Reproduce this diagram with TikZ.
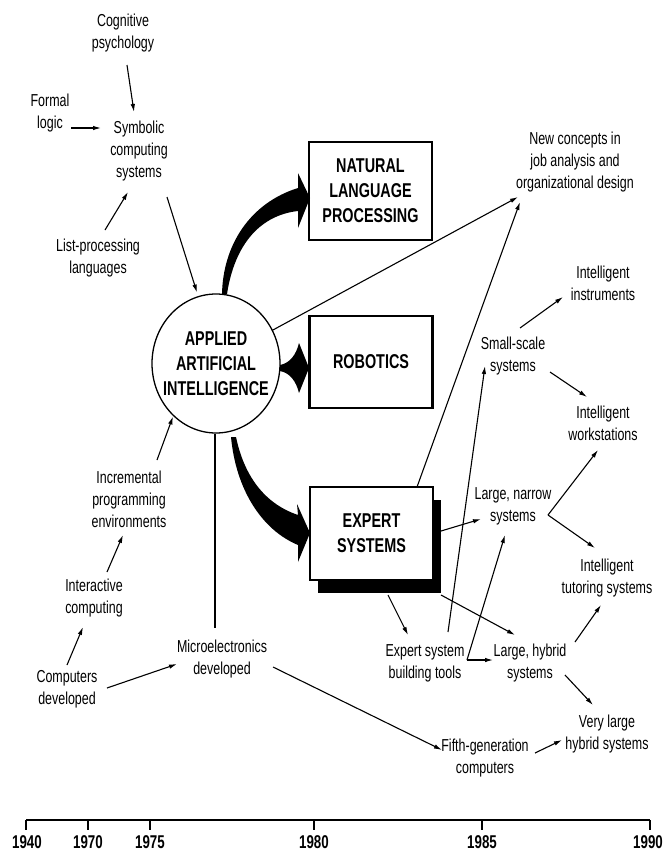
\documentclass[tikz,border=0pt]{standalone}
\usepackage{fontspec}
\setmainfont{Liberation Sans}[FakeStretch=0.72]
\usetikzlibrary{arrows.meta,shapes.geometric}
\begin{document}
\begin{tikzpicture}[x=1pt,y=-1pt,
  txt/.style={align=center,font=\fontsize{17.3}{22}\selectfont,inner sep=1pt},
  bigtxt/.style={align=center,font=\fontsize{20}{25}\selectfont\bfseries},
  boxnode/.style={draw,line width=2.2pt,bigtxt,minimum width=123pt,inner sep=0pt,fill=white},
  arr/.style={-{Latex[length=8pt,width=4.5pt]},line width=1.1pt},
  plain/.style={line width=1.1pt},
  yr/.style={font=\fontsize{18.5}{18.5}\selectfont\bfseries,inner sep=0pt}]
\useasboundingbox[fill=white] (0,0) rectangle (663,854);

% text nodes
\node[txt] (cog) at (123,33.5) {Cognitive\\psychology};
\node[txt] (formal) at (50,113.5) {Formal\\logic};
\node[txt] (sym) at (139,151) {Symbolic\\computing\\systems};
\node[txt] (list) at (98,258) {List-processing\\languages};
\node[txt] (newc) at (575,162) {New concepts in\\job analysis and\\organizational design};
\node[txt] (instr) at (603,283) {Intelligent\\instruments};
\node[txt] (small) at (513,356) {Small-scale\\systems};
\node[txt] (work) at (603,423) {Intelligent\\workstations};
\node[txt] (narrow) at (513,506) {Large, narrow\\systems};
\node[txt] (tutor) at (607,578) {Intelligent\\tutoring systems};
\node[txt] (tools) at (425,663) {Expert system\\building tools};
\node[txt] (hybrid) at (530,663) {Large, hybrid\\systems};
\node[txt] (vlarge) at (607,734) {Very large\\hybrid systems};
\node[txt] (fifth) at (485,758) {Fifth-generation\\computers};
\node[txt] (micro) at (222,659) {Microelectronics\\developed};
\node[txt] (comp) at (67,689) {Computers\\developed};
\node[txt] (inter) at (94,598) {Interactive\\computing};
\node[txt] (incr) at (129,499) {Incremental\\programming\\environments};

% central circle
\node[draw,ellipse,line width=1.3pt,minimum width=128pt,minimum height=139pt,inner sep=0pt] (aai) at (216,363.5) {};
\node[bigtxt] (aaitext) at (aai.center) {APPLIED\\ARTIFICIAL\\INTELLIGENCE};

% boxes
\fill (318,500) rectangle (441,593);
\node[boxnode,minimum height=98pt] (nlp) at (370.5,191) {NATURAL\\LANGUAGE\\PROCESSING};
\node[boxnode,minimum height=92pt] (rob) at (371,362) {ROBOTICS};
\node[boxnode,minimum height=93pt] (exp) at (371.5,533.5) {EXPERT\\SYSTEMS};

% thick curved arrows
\fill (222,294) .. controls (223,245) and (250,203) .. (298,188) -- (298,173) -- (310,198) -- (298,228) -- (298,211) .. controls (262,215) and (235,242) .. (227,294) -- cycle;
\fill (280,365) .. controls (290,363) and (296,355) .. (299,343) -- (309,368) -- (299,393) .. controls (296,381) and (290,373) .. (280,371) -- cycle;
\fill (231,437) .. controls (236,490) and (262,530) .. (298,545) -- (298,562) -- (310,533) -- (297,504) -- (298,515) .. controls (268,505) and (245,480) .. (236,437) -- cycle;

% thin arrows
\draw[arr] ([shift={(4,31.5)}]cog.center) -- ([shift={(-5,-39)}]sym.center);
\draw[arr] ([shift={(21,14.5)}]formal.center) -- ([shift={(-38,-23)}]sym.center);
\draw[arr] ([shift={(7,-28)}]list.center) -- ([shift={(-11,41)}]sym.center);
\draw[arr] ([shift={(28,46)}]sym.center) -- ([shift={(-19,-71)}]aai.center);
\draw[arr] ([shift={(56,-33)}]aai.center) -- ([shift={(-57,35)}]newc.center);
\draw[arr] ([shift={(45.5,-46.5)}]exp.center) -- ([shift={(-55,40)}]newc.center);
\draw[arr] ([shift={(7,-28)}]small.center) -- ([shift={(-40,14)}]instr.center);
\draw[arr] ([shift={(37,16)}]small.center) -- ([shift={(-16,-26)}]work.center);
\draw[arr] ([shift={(69.5,-2.5)}]exp.center) -- ([shift={(-32,13)}]narrow.center);
\coordinate (vtx) at ([shift={(35,9)}]narrow.center);
\draw[arr] (vtx) -- ([shift={(-5,27)}]work.center);
\draw[arr] (vtx) -- ([shift={(-12,-30)}]tutor.center);
\draw[arr] ([shift={(16.5,61.5)}]exp.center) -- ([shift={(-17,-28)}]tools.center);
\draw[arr] ([shift={(69.5,61.5)}]exp.center) -- ([shift={(-15,-28)}]hybrid.center);
\draw[arr] ([shift={(23,-31)}]tools.center) -- ([shift={(-28,10)}]small.center);
\coordinate (crn) at ([shift={(42,-3)}]tools.center);
\draw[arr] (crn) -- ([shift={(-8,29)}]narrow.center);
\draw[arr] (crn) -- ([shift={(-37,-3)}]hybrid.center);
\draw[arr] ([shift={(45,-21)}]hybrid.center) -- ([shift={(-6,27)}]tutor.center);
\draw[arr] ([shift={(35,12)}]hybrid.center) -- ([shift={(-14,-29)}]vlarge.center);
\draw[arr] ([shift={(51,8)}]micro.center) -- ([shift={(-43,-8)}]fifth.center);
\draw[arr] ([shift={(50,-5)}]fifth.center) -- ([shift={(-45,6)}]vlarge.center);
\draw[arr] ([shift={(0,-24)}]comp.center) -- ([shift={(-11,29)}]inter.center);
\draw[arr] ([shift={(40,-1)}]comp.center) -- ([shift={(-45,5)}]micro.center);
\draw[arr] ([shift={(13,-26)}]inter.center) -- ([shift={(-6,36)}]incr.center);
\draw[arr] ([shift={(28,-39)}]incr.center) -- ([shift={(-43,53)}]aai.center);
\draw[plain] ([xshift=-1pt]aai.south) -- ([shift={(-7,-31)}]micro.center);

% timeline
\node[yr] (y1940) at (27,842) {1940};
\node[yr] (y1970) at (88,842) {1970};
\node[yr] (y1975) at (150,842) {1975};
\node[yr] (y1980) at (314,842) {1980};
\node[yr] (y1985) at (482,842) {1985};
\node[yr] (y1990) at (648,842) {1990};
\draw[line width=1.6pt] (26,820) -- (650,820);
\foreach \x in {26,88,150,314,482,650} \draw[line width=1.3pt] (\x,820) -- (\x,830);
\end{tikzpicture}
\end{document}
